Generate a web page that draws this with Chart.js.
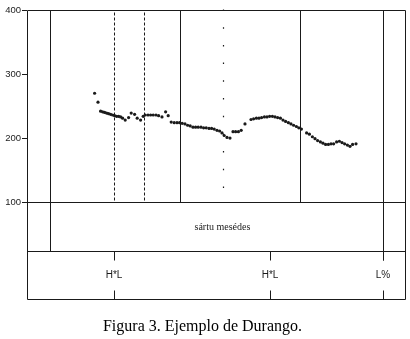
<!DOCTYPE html>
<html>
<head>
<meta charset="utf-8">
<style>
  body { margin: 0; background: #fff; }
  canvas { display: block; }
</style>
<script src="https://cdn.jsdelivr.net/npm/chart.js@4/dist/chart.umd.min.js"></script>
</head>
<body>
<canvas id="f0Chart" width="410" height="339"></canvas>
<script>
// pitch track (time in ms, f0 in Hz)
var times = [338,355,368,378,388,398,408,418,428,438,448,458,468,478,491,508,521,538,551,568,
  581,591,605,618,631,645,658,675,693,706,721,736,750,763,776,790,803,816,830,843,
  856,870,883,896,910,923,936,950,963,975,986,1000,1015,1030,1043,1057,1071,1090,1120,1133,
  1147,1160,1173,1187,1200,1213,1227,1240,1253,1267,1280,1293,1307,1320,1333,1347,1359,1372,1398,1412,
  1427,1440,1453,1467,1480,1493,1507,1520,1533,1548,1562,1575,1588,1602,1615,1628,1645];
var f0 = [270,256,242,241,240,239,238,237,236,235,234,234,233,231,228,232,239,237,231,228,
  234,236,236,236,236,236,235,233,241,235,225,224,224,224,223,222,220,219,217,217,
  217,217,216,216,215,215,214,212,211,208,204,201,200,210,210,210,212,222,229,230,
  231,231,232,233,233,234,234,233,232,231,228,226,224,222,220,218,216,214,208,206,
  202,199,196,194,192,190,190,191,191,194,195,193,191,189,187,190,191];

var yTicks = [100, 200, 300, 400];

// segment boundaries (ms)
var solidLines = [765, 1365];
var dashedLines = [435, 585];
var dottedLines = [980];
var leftEdge = 115;      // goes down through the word tier
var toneEdge = 1780;     // goes down into the tone tier

// tiers (in Hz units of the same y scale)
var tierTop = 100, tierMid = 23.5, tierBottom = -51.4;
var wordLabel = { t: 977, text: 'sártu mesédes' };
var tones = [ { t: 435, text: 'H*L' }, { t: 1215, text: 'H*L' }, { t: 1780, text: 'L%' } ];

var ink = '#1a1a1a';

function crisp(v) { return Math.round(v) + 0.5; }

var tierPlugin = {
  id: 'tiers',
  beforeDatasetsDraw: function(chart) {
    var ctx = chart.ctx, a = chart.chartArea;
    var x = chart.scales.x, y = chart.scales.y;
    var top = crisp(a.top), bot = crisp(a.bottom), l = crisp(a.left), r = crisp(a.right);
    var yT = crisp(y.getPixelForValue(tierTop));
    var yM = crisp(y.getPixelForValue(tierMid));

    ctx.save();
    ctx.strokeStyle = ink;
    ctx.lineWidth = 1;

    function vline(t, y1, y2, dash) {
      var px = crisp(x.getPixelForValue(t));
      ctx.setLineDash(dash || []);
      ctx.beginPath();
      ctx.moveTo(px, y1);
      ctx.lineTo(px, y2);
      ctx.stroke();
    }
    function hline(py) {
      ctx.setLineDash([]);
      ctx.beginPath();
      ctx.moveTo(l, py);
      ctx.lineTo(r, py);
      ctx.stroke();
    }

    // frame
    hline(top); hline(yT); hline(yM); hline(bot);
    ctx.beginPath(); ctx.moveTo(r, top); ctx.lineTo(r, bot); ctx.stroke();
    ctx.beginPath(); ctx.moveTo(l, top); ctx.lineTo(l, bot); ctx.stroke();

    solidLines.forEach(function(t) { vline(t, top, yT); });
    dashedLines.forEach(function(t) { vline(t, top + 2, yT, [3, 2]); });
    ctx.lineWidth = 1.2;
    dottedLines.forEach(function(t) { vline(t, top - 1, yT - 8, [1.5, 16.2]); });
    ctx.lineWidth = 1;
    vline(leftEdge, top, yM);
    vline(toneEdge, top, yM + 9);

    // tone tier ticks
    tones.forEach(function(tn) {
      vline(tn.t, yM, yM + 9);
      vline(tn.t, bot - 9, bot);
    });
    ctx.setLineDash([]);

    // texts
    ctx.fillStyle = ink;
    ctx.textAlign = 'center';
    ctx.textBaseline = 'middle';
    ctx.font = '10px "Liberation Serif"';
    ctx.fillText(wordLabel.text, x.getPixelForValue(wordLabel.t), y.getPixelForValue((tierTop + tierMid) / 2) + 1);
    ctx.font = '10px "Liberation Sans"';
    var yTone = y.getPixelForValue((tierMid + tierBottom) / 2);
    tones.forEach(function(tn) {
      ctx.fillText(tn.text, x.getPixelForValue(tn.t), yTone);
    });
    ctx.restore();
  }
};

var ctx = document.getElementById('f0Chart');
var chart = new Chart(ctx, {
  type: 'scatter',
  data: {
    datasets: [{
      data: times.map(function(t, i) { return { x: t, y: f0[i] }; }),
      pointRadius: 1.6,
      pointBorderWidth: 0,
      backgroundColor: ink,
      borderColor: ink
    }]
  },
  options: {
    responsive: false,
    animation: false,
    devicePixelRatio: 1,
    layout: { padding: { top: 10, right: 5, bottom: 0, left: 0 } },
    plugins: {
      legend: { display: false },
      tooltip: { enabled: false },
      title: {
        display: true,
        position: 'bottom',
        text: 'Figura 3. Ejemplo de Durango.',
        color: '#000',
        font: { family: '"Liberation Serif"', size: 16, weight: 'normal' },
        padding: { top: 18, bottom: 2.8 }
      }
    },
    scales: {
      x: { type: 'linear', min: 0, max: 1890, display: false },
      y: {
        min: tierBottom,
        max: 400,
        afterBuildTicks: function(s) { s.ticks = yTicks.map(function(v) { return { value: v }; }); },
        afterFit: function(s) { s.width = 27; },
        grid: { drawOnChartArea: false, drawTicks: true, tickLength: 5, color: ink },
        border: { display: false },
        ticks: { color: '#222', padding: 1, font: { family: '"Liberation Sans"', size: 9.5 } }
      }
    }
  },
  plugins: [tierPlugin]
});
</script>
</body>
</html>
